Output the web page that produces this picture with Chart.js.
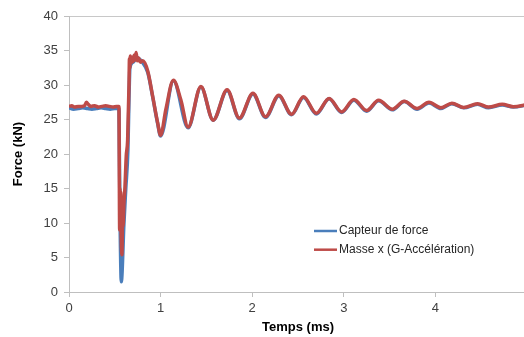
<!DOCTYPE html>
<html>
<head>
<meta charset="utf-8">
<script src="https://cdn.jsdelivr.net/npm/chart.js@4"></script>
<style>
  html, body { margin: 0; padding: 0; background: #fff; overflow: hidden; }
  #wrap { width: 531px; height: 337px; }
</style>
</head>
<body>
<div id="wrap"><canvas id="chart" width="531" height="337"></canvas></div>
<script>
// data (time in ms, force in kN)
const seriesNames = ['Capteur de force', 'Masse x (G-Accélération)'];

const blueTime = [0, 0.05, 0.1, 0.15, 0.2, 0.25, 0.3, 0.35, 0.4, 0.45, 0.5, 0.545,
	0.55, 0.56, 0.571, 0.6, 0.62, 0.643, 0.655, 0.665, 0.7, 0.74, 0.8, 0.86, 0.913, 0.968, 1.0,
	1.14, 1.3, 1.44, 1.574, 1.726, 1.86, 2.008, 2.145, 2.29, 2.43, 2.56, 2.7, 2.84, 2.976,
	3.11, 3.25, 3.38, 3.53, 3.66, 3.8, 3.93, 4.06, 4.18, 4.31, 4.46, 4.58, 4.73, 4.85, 5.0];
const blueForce = [26.7, 26.5, 26.6, 26.7, 26.6, 26.5, 26.6, 26.7, 26.6, 26.5, 26.6, 26.6,
	20, 8, 1.5, 10, 15, 20.6, 28, 32.5, 33.3, 34.0, 33.3, 31.8, 28.3, 24.4, 22.6,
	30.6, 23.8, 29.7, 24.9, 29.2, 25.1, 28.7, 25.3, 28.4, 25.7, 28.2, 25.8, 28.0, 26.0,
	27.8, 26.2, 27.7, 26.4, 27.6, 26.5, 27.4, 26.6, 27.3, 26.7, 27.2, 26.7, 27.1, 26.8, 27.1];

const redTime = [0, 0.03, 0.06, 0.1, 0.14, 0.17, 0.19, 0.21, 0.24, 0.28, 0.32, 0.36, 0.4,
	0.44, 0.48, 0.52, 0.545, 0.553, 0.556, 0.56, 0.565, 0.57, 0.578, 0.584, 0.59, 0.6, 0.61,
	0.625, 0.64, 0.655, 0.66, 0.665, 0.67, 0.68, 0.69, 0.7, 0.71, 0.72, 0.733, 0.745, 0.76,
	0.78, 0.805, 0.86, 0.913, 0.968, 1.0, 1.058, 1.14, 1.22, 1.3, 1.44, 1.574, 1.726, 1.86,
	2.008, 2.145, 2.29, 2.43, 2.56, 2.7, 2.84, 2.976, 3.11, 3.25, 3.38, 3.53, 3.66, 3.8, 3.93,
	4.06, 4.18, 4.31, 4.46, 4.58, 4.73, 4.85, 5.0];
const redForce = [26.9, 27.0, 26.8, 26.9, 26.9, 27.0, 27.5, 27.2, 26.9, 27.0, 26.8, 26.9, 27.0,
	26.9, 26.8, 26.9, 26.9, 9, 15, 11, 14.5, 8, 5.4, 10, 9.5, 13, 15,
	19.7, 22, 30, 33.8, 32.5, 34.2, 33.2, 34.0, 33.4, 34.3, 33.6, 34.7, 33.5, 33.9,
	33.3, 33.5, 32.0, 28.4, 24.5, 22.7, 26.5, 30.7, 27.9, 23.9, 29.8, 24.9, 29.3, 25.2,
	28.8, 25.4, 28.5, 25.75, 28.3, 25.9, 28.05, 26.1, 27.9, 26.3, 27.8, 26.5, 27.65, 26.6, 27.5,
	26.7, 27.35, 26.75, 27.3, 26.8, 27.2, 26.85, 27.15];

const xTicks = [0, 1, 2, 3, 4, 5];
const yTicks = [0, 5, 10, 15, 20, 25, 30, 35, 40];

const BLUE = '#4a7ebb';
const RED = '#be4b48';
const AXIS = '#bfbfbf';
const FONT = '"Liberation Sans", Arial, sans-serif';

function toPoints(xs, ys) {
	return xs.map((x, i) => ({ x: x, y: ys[i] }));
}

// legend drawn inside the plot, Excel style
const innerLegend = {
	id: 'innerLegend',
	afterDatasetsDraw(chart) {
		const ctx = chart.ctx;
		ctx.save();
		ctx.font = '12px ' + FONT;
		ctx.textBaseline = 'middle';
		chart.data.datasets.forEach((ds, i) => {
			const y = 231 + i * 18.7;
			ctx.strokeStyle = ds.borderColor;
			ctx.lineWidth = 2.5;
			ctx.beginPath();
			ctx.moveTo(314, y);
			ctx.lineTo(337, y);
			ctx.stroke();
			ctx.fillStyle = '#262626';
			ctx.fillText(ds.label, 339, y);
		});
		ctx.restore();
	}
};

new Chart(document.getElementById('chart'), {
	type: 'line',
	data: {
		datasets: [
			{
				label: seriesNames[0],
				data: toPoints(blueTime, blueForce),
				borderColor: BLUE,
				borderWidth: 3.5,
				order: 1
			},
			{
				label: seriesNames[1],
				data: toPoints(redTime, redForce),
				borderColor: RED,
				borderWidth: 3.5,
				order: 0
			}
		]
	},
	options: {
		responsive: false,
		animation: false,
		events: [],
		cubicInterpolationMode: 'monotone',
		elements: { point: { radius: 0 } },
		layout: { padding: { top: 16, left: 0, right: 0, bottom: 0 } },
		plugins: {
			legend: { display: false },
			tooltip: { enabled: false }
		},
		scales: {
			x: {
				type: 'linear',
				min: 0,
				max: 5,
				afterFit: (s) => { s.height = 45; },
				afterBuildTicks: (s) => { s.ticks = xTicks.map(v => ({ value: v })); },
				border: { color: AXIS, width: 1 },
				grid: { drawOnChartArea: false, tickLength: 5, tickColor: AXIS },
				ticks: {
					color: '#404040',
					font: { family: FONT, size: 13 },
					padding: 4,
					maxRotation: 0,
					callback: (v) => (v === 5 ? '' : v)
				},
				title: {
					display: true,
					text: 'Temps (ms)',
					color: '#000',
					font: { family: FONT, size: 13, weight: 'bold' },
					padding: 2
				}
			},
			y: {
				min: 0,
				max: 40,
				afterFit: (s) => { s.width = 69; },
				afterBuildTicks: (s) => { s.ticks = yTicks.map(v => ({ value: v })); },
				border: { color: AXIS, width: 1 },
				grid: {
					color: (c) => (c.tick && c.tick.value === 40 ? '#c8c8c8' : 'rgba(0,0,0,0)'),
					tickColor: AXIS,
					tickLength: 5
				},
				ticks: {
					color: '#404040',
					font: { family: FONT, size: 13 },
					padding: 6
				},
				title: {
					display: true,
					text: 'Force (kN)',
					color: '#000',
					font: { family: FONT, size: 13, weight: 'bold' },
					padding: 11
				}
			}
		}
	},
	plugins: [innerLegend]
});
</script>
</body>
</html>
